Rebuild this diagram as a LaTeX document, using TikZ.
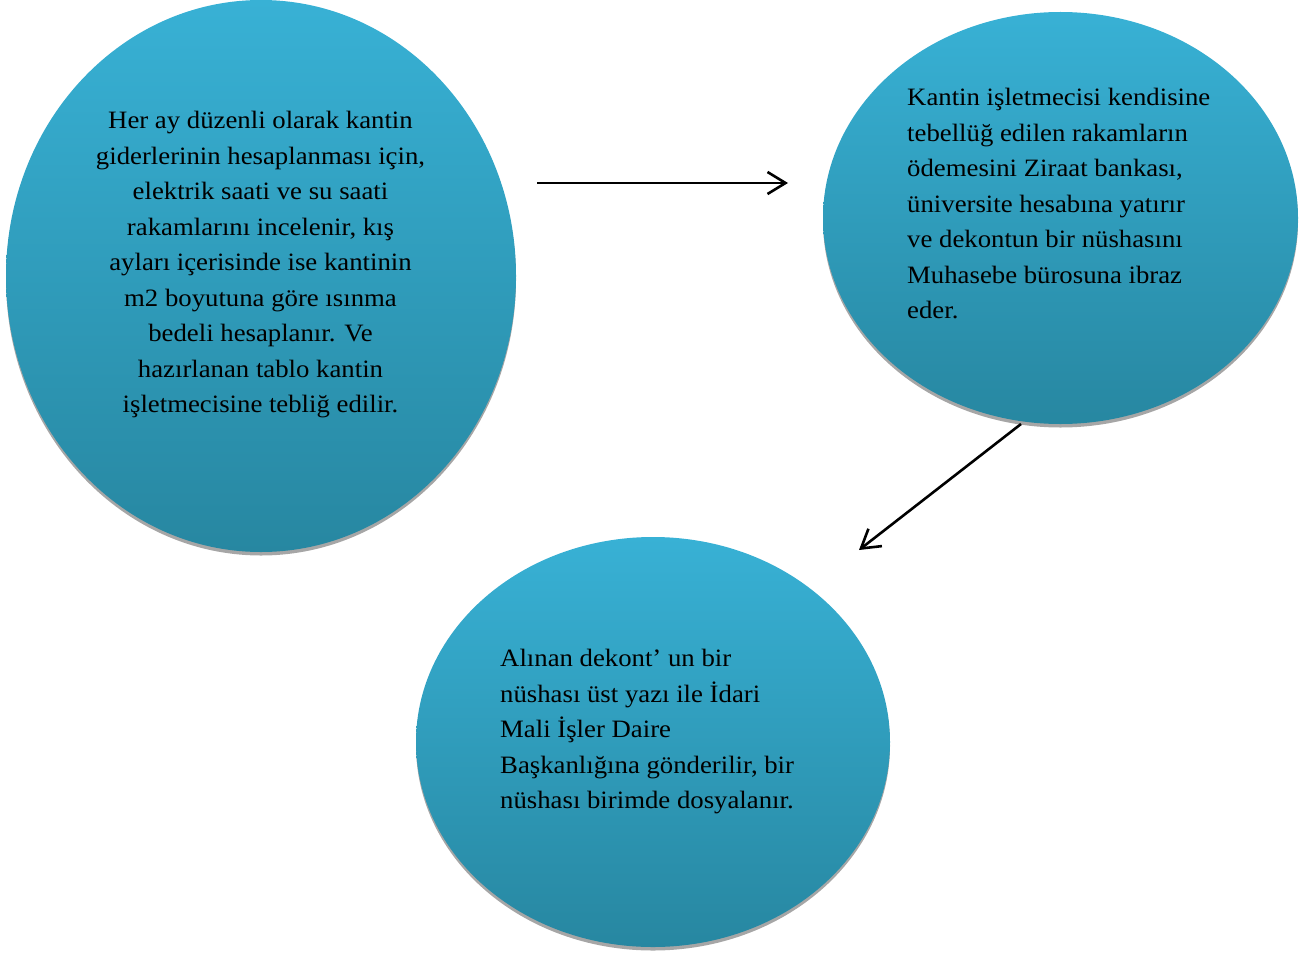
\documentclass[tikz,border=0pt]{standalone}
\usepackage{fontspec}
\setmainfont{Liberation Serif}
\newfontfamily\bubblefont[FakeStretch=1.07]{Liberation Serif}
\usetikzlibrary{shapes.geometric,arrows.meta}
\definecolor{bubbletop}{HTML}{38B1D5}
\definecolor{bubblebot}{HTML}{2787A1}
\definecolor{bubbleshade}{HTML}{A6A6A6}
\tikzset{
  bubble/.style={ellipse, inner sep=0pt, top color=bubbletop, bottom color=bubblebot, draw=none},
  bubbleshadow/.style={ellipse, inner sep=0pt, fill=bubbleshade, draw=none},
  bubbletext/.style={inner sep=0pt, font=\bubblefont\fontsize{25}{35.5}\selectfont, text=black},
  flow/.style={line width=2.6pt, -{Straight Barb[length=18pt,width=22pt,line width=2.6pt]}}
}
\begin{document}
\begin{tikzpicture}[x=1pt,y=-1pt]
\useasboundingbox (0,0) rectangle (1313,955);
% shadows under the three bubbles
\node[bubbleshadow, minimum width=510pt, minimum height=552pt] at (261,279.5) {};
\node[bubbleshadow, minimum width=475pt, minimum height=412pt] at (1060.5,221.5) {};
\node[bubbleshadow, minimum width=474pt, minimum height=410pt] at (653,745.5) {};
% bubbles
\node[bubble, minimum width=510pt, minimum height=552pt] (b1) at (261,276) {};
\node[bubble, minimum width=475pt, minimum height=412pt] (b2) at (1060.5,218) {};
\node[bubble, minimum width=474pt, minimum height=410pt] (b3) at (653,742) {};
% texts
\node[bubbletext, align=center, anchor=north] (t1) at (260.5,111) {Her ay düzenli olarak kantin\\giderlerinin hesaplanması için,\\elektrik saati ve su saati\\rakamlarını incelenir, kış\\ayları içerisinde ise kantinin\\m2 boyutuna göre ısınma\\bedeli hesaplanır. Ve\\hazırlanan tablo kantin\\işletmecisine tebliğ edilir.};
\node[bubbletext, align=left, anchor=north west] (t2) at (907,88) {Kantin işletmecisi kendisine\\tebellüğ edilen rakamların\\ödemesini Ziraat bankası,\\üniversite hesabına yatırır\\ve dekontun bir nüshasını\\Muhasebe bürosuna ibraz\\eder.};
\node[bubbletext, align=left, anchor=north west] (t3) at (500,649) {Alınan dekont’ un bir\\nüshası üst yazı ile İdari\\Mali İşler Daire\\Başkanlığına gönderilir, bir\\nüshası birimde dosyalanır.};
% connectors
\coordinate (a1s) at (537,183);
\coordinate (a1e) at (788,183);
\coordinate (a2s) at (1021,424);
\coordinate (a2e) at (859,550);
\draw[flow] (a1s) -- (a1e);
\draw[flow] (a2s) -- (a2e);
\end{tikzpicture}
\end{document}
